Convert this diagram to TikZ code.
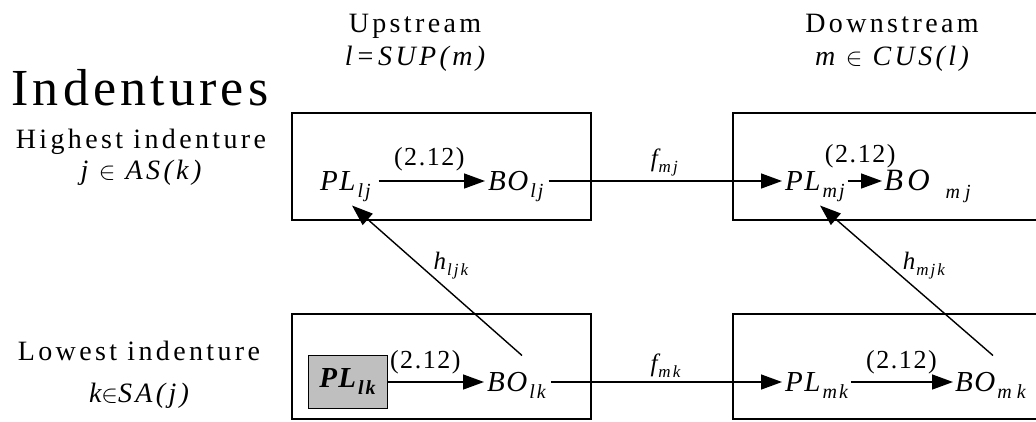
\documentclass[tikz,border=0pt]{standalone}
\usepackage{fontspec}
\setmainfont{Liberation Serif}
\usetikzlibrary{arrows.meta}
\newcommand{\Sb}[1]{\kern2pt\raisebox{-0.55ex}{\fontsize{20}{20}\selectfont\itshape\addfontfeature{LetterSpace=10}#1}}
\newcommand{\Sbw}[1]{\kern2pt\raisebox{-0.55ex}{\fontsize{20}{20}\selectfont\itshape\addfontfeature{LetterSpace=25}#1}}
\newcommand{\Ssb}[1]{\kern1pt\raisebox{-0.5ex}{\fontsize{17}{17}\selectfont\itshape\addfontfeature{LetterSpace=12}#1}}
\begin{document}
\begin{tikzpicture}[x=1pt,y=-1pt,
  box/.style={draw, line width=1.5pt},
  lab/.style={inner sep=0pt, outer sep=0pt, text height=19pt, text depth=0pt, anchor=west,
    font=\fontsize{29}{29}\selectfont\itshape\addfontfeature{LetterSpace=6}},
  eq/.style={font=\fontsize{26}{26}\selectfont\addfontfeature{LetterSpace=6}, inner sep=0pt},
  flab/.style={font=\fontsize{25}{25}\selectfont\itshape, inner sep=0pt},
  head/.style={font=\fontsize{28}{28}\selectfont\addfontfeature{LetterSpace=12}, inner sep=0pt, anchor=base},
  side/.style={font=\fontsize{28}{28}\selectfont\addfontfeature{LetterSpace=12}, inner sep=0pt, anchor=base},
  arr/.style={line width=1.4pt, -{Triangle[length=21pt,width=15pt]}}
]
\useasboundingbox (0,0) rectangle (1036,421);
\clip (0,0) rectangle (1036,421);

% boxes
\draw[box] (292,113) rectangle (591,220);
\draw[box] (733,113) rectangle (1050,220);
\draw[box] (292,314) rectangle (591,419);
\draw[box] (733,314) rectangle (1050,419);

% headings
\node[head] (up) at (415,32) {Upstream};
\node[head] (upf) at (415,65) {\itshape l=SUP(m)};
\node[head] (down) at (892,32) {Downstream};
\node[head] (downf) at (892,65) {\itshape m $\in$ CUS(l)};
\node[font=\fontsize{52}{52}\selectfont\addfontfeature{LetterSpace=8}, inner sep=0pt, anchor=base] (ind) at (140,105) {Indentures};
\node[side] (hi) at (141,148) {Highest indenture};
\node[side] (hif) at (141,179) {\itshape j $\in$ AS(k)};
\node[side] (lo) at (139,360) {Lowest indenture};
\node[side] (lof) at (139,402) {\itshape k$\in$SA(j)};

% top row
\node[lab] (PLlj) at (320,181) {PL\Sb{lj}};
\node[lab] (BOlj) at (488,181) {BO\Sb{lj}};
\node[lab] (PLmj) at (785,181) {PL\Sb{mj}};
\node[lab, font=\fontsize{31}{31}\selectfont\itshape\addfontfeature{LetterSpace=14}] (BOmj) at (884,181) {BO\kern14pt\Sbw{mj}};

% bottom row
\node[draw, line width=1pt, fill=black!25, minimum width=79pt, minimum height=53pt, inner sep=0pt,
  font=\fontsize{29}{29}\selectfont\bfseries\itshape\addfontfeature{LetterSpace=4}] (PLlk) at (347.5,381.5) {PL\Sb{\bfseries lk}};
\node[lab] (BOlk) at (487,382) {BO\Sb{lk}};
\node[lab] (PLmk) at (785,382) {PL\Sb{mk}};
\node[lab] (BOmk) at (955,382) {BO\Sbw{mk}};

% arrows
\draw[arr, shorten <=8pt, shorten >=3pt] (PLlj) -- node[eq, above=9pt] {(2.12)} (BOlj);
\draw[arr, shorten <=5pt, shorten >=3pt] (BOlj) -- node[flab, above=4pt] {f\Ssb{mj}} (PLmj);
\draw[arr, shorten <=3pt, shorten >=2pt] (PLmj) -- node[eq, above=12pt, xshift=-4pt] {(2.12)} (BOmj);
\draw[arr, shorten >=3pt] (PLlk.east |- BOlk.west) -- node[eq, above=7pt, pos=0.38] {(2.12)} (BOlk);
\draw[arr, shorten <=5pt, shorten >=3pt] (BOlk) -- node[flab, above=4pt] {f\Ssb{mk}} (PLmk);
\draw[arr, shorten <=3pt, shorten >=2pt] (PLmk) -- node[eq, above=7pt] {(2.12)} (BOmk);
\draw[arr] ([xshift=35pt,yshift=17pt]BOlk.north west) -- node[flab, pos=0.6, anchor=west, xshift=13pt] {h\Ssb{ljk}} ([xshift=32pt,yshift=-15pt]PLlj.south west);
\draw[arr] ([xshift=38pt,yshift=17pt]BOmk.north west) -- node[flab, pos=0.6, anchor=west, xshift=13pt] {h\Ssb{mjk}} ([xshift=35pt,yshift=-15pt]PLmj.south west);
\end{tikzpicture}
\end{document}
